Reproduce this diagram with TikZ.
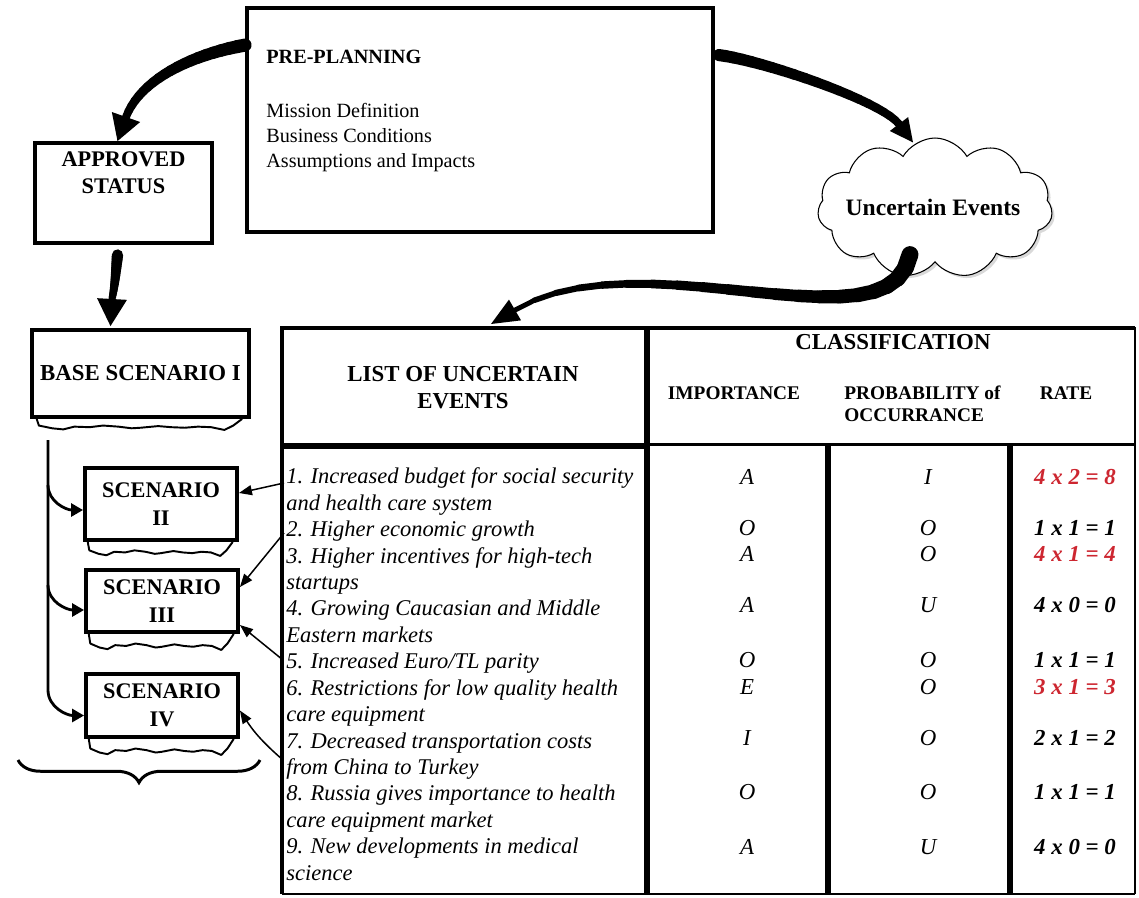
\documentclass[tikz,border=0pt]{standalone}
\usepackage{fontspec}
\setmainfont{Liberation Serif}
\usepackage{tikz}
\usetikzlibrary{arrows.meta,positioning,calc,decorations.pathreplacing,shapes.geometric,shapes.symbols,shadows}
\definecolor{ratered}{RGB}{205,38,48}
\newcommand{\px}{0.02cm}
% wavy sheet under a box: #1 node, #2 depth
\newcommand{\tornedge}[2]{%
    \draw[torn edge] ($(#1.south west)!.03!(#1.south east)$)
        \foreach \f/\d in {.04/.6,.1/.85,.15/.95,.2/.7,.27/.75,.33/.6,.4/.7,.46/.85,.5/.8,.58/.65,.64/.75,.7/.8,.76/.7,.82/.75,.88/1,.92/.6,.96/0}
        { -- ($(#1.south west)!\f!(#1.south east)+(0,{\d*#2})$) };}
% tapered arrow: start, c1, c2, head base, tip, start width, end width, half head
\newcommand{\taperarrow}[8]{%
    \path (#1) .. controls #2 and #3 .. (#4)
        \foreach \k [evaluate=\k as \t using \k/20] in {0,...,20}{coordinate[pos=\t] (sw\k)};
    \foreach \k in {1,...,20}{%
        \pgfmathsetmacro{\w}{#6+(#7-#6)*\k/20}%
        \pgfmathtruncatemacro{\kp}{\k-1}%
        \draw[swoosh=\w pt] (sw\kp) -- (sw\k);}
    \fill (#5) -- ($(#4)!#8!90:(#5)$) -- ($(#4)!#8!-90:(#5)$) -- cycle;}
\tikzset{
    box/.style={draw,line width=2.2pt},
    lbl/.style={font=\fontsize{12.7}{15.3}\selectfont\bfseries,align=center},
    scen/.style={box,minimum width=152*\px,align=center,font=\fontsize{12.7}{16}\selectfont\bfseries},
    torn edge/.style={line width=1.1pt,line join=round},
    swoosh/.style={line width=#1,line cap=round},
    branch/.style={line width=1.6pt,-{Triangle[length=0.24cm,width=0.26cm]}},
    thin arr/.style={line width=0.85pt,-{Triangle[length=0.26cm,width=0.2cm]}},
    rule/.style={line width=#1},
    head/.style={font=\fontsize{13}{15.3}\selectfont\bfseries,align=center},
    subhead/.style={font=\fontsize{11}{12.5}\selectfont\bfseries},
    event/.style={anchor=north west,align=left,font=\fontsize{12.8}{15}\selectfont\itshape},
    cell/.style={font=\fontsize{13}{15}\selectfont\itshape},
    rate/.style={font=\fontsize{13}{15}\selectfont\bfseries\itshape,text=#1},
}
\tikzstyle{every node}=[inner sep=0pt]

\begin{document}
\begin{tikzpicture}[x=\px,y=-\px]
    \useasboundingbox (0,0) rectangle (1139,897);

    % planning boxes
    \node[box,minimum width=466*\px,minimum height=224*\px] (pre) at (480,120) {};
    \node[anchor=west,font=\fontsize{11.5}{14}\selectfont\bfseries] (pretitle) at (266,57) {PRE-PLANNING};
    \node[anchor=north west,align=left,font=\fontsize{11.5}{14.2}\selectfont] (prelist) at (266,103) {Mission Definition\\Business Conditions\\Assumptions and Impacts};

    \node[box,minimum width=177*\px,minimum height=100*\px] (appr) at (123.5,193) {};
    \node[lbl,anchor=north] (apprlbl) at (123.5,151) {APPROVED\\STATUS};

    \node[box,minimum width=217*\px,minimum height=87*\px,font=\fontsize{13}{15}\selectfont\bfseries] (base) at (140.5,373.5) {BASE SCENARIO I};
    \node[scen,minimum height=72*\px] (sc2) at (161,504) {SCENARIO\\II};
    \node[scen,minimum height=62*\px] (sc3) at (162,601) {SCENARIO\\III};
    \node[scen,minimum height=63*\px] (sc4) at (162,705.5) {SCENARIO\\IV};
    \tornedge{base}{11}
    \tornedge{sc2}{14}
    \tornedge{sc3}{16}
    \tornedge{sc4}{16}

    \coordinate (trunk) at (48,440);
    \draw[branch] (trunk) -- ++(0,250) to[out=-90,in=180] ($(sc4.west)+(0,10)$);
    \draw[branch] ($(trunk)+(0,45)$) to[out=-90,in=180] ($(sc2.west)+(0,6)$);
    \draw[branch] ($(trunk)+(0,145)$) to[out=-90,in=180] ($(sc3.west)+(0,9)$);
    \draw[line width=1.7pt,decorate,decoration={brace,mirror,amplitude=0.45cm}] (18,760) -- (260,760);

    \node[cloud,draw,fill=white,cloud puffs=11,cloud puff arc=120,cloud ignores aspect,minimum width=235*\px,minimum height=140*\px,line width=0.6pt,drop shadow={shadow xshift=1.5pt,shadow yshift=-1.5pt,opacity=.3}] (unc) at (935,208) {};
    \node[font=\fontsize{13.4}{15}\selectfont\bfseries] (unclbl) at (933,207) {Uncertain Events};

    % table
    \coordinate (tl) at (282,328);
    \draw[rule=2.3pt] (282,328) -- (1135,328);
    \draw[rule=2.8pt] (282,326) -- (282,894);
    \draw[rule=1.4pt] (1135,327) -- (1135,894);
    \draw[rule=0.8pt] (282,894) -- (1135,894);
    \draw[rule=3.4pt] (647,328) -- (647,894);
    \draw[rule=3.4pt] (282,446) -- (647,446);
    \draw[rule=1.7pt] (647,444) -- (1135,444);
    \draw[rule=3.4pt] (828,444) -- (828,894);
    \draw[rule=3.4pt] (1010,444) -- (1010,894);

    \node[head] (listhead) at (463,387.5) {LIST OF UNCERTAIN\\EVENTS};
    \node[head] (classhead) at (893,342) {CLASSIFICATION};
    \node[subhead] (imphead) at (734,393) {IMPORTANCE};
    \node[subhead,anchor=north west,align=left] (probhead) at (844,386) {PROBABILITY of\\OCCURRANCE};
    \node[subhead] (ratehead) at (1066,393) {RATE};

    \foreach \row/\txt [count=\i] in {0/{1. Increased budget for social security\\and health care system},
        2/{2. Higher economic growth},
        3/{3. Higher incentives for high-tech\\startups},
        5/{4. Growing Caucasian and Middle\\Eastern markets},
        7/{5. Increased Euro/TL parity},
        8/{6. Restrictions for low quality health\\care equipment},
        10/{7. Decreased transportation costs\\from China to Turkey},
        12/{8. Russia gives importance to health\\care equipment market},
        14/{9. New developments in medical\\science}}
        \node[event] (ev\i) at (286,{467.6+26.45*\row}) {\txt};

    \foreach \y/\imp/\prob/\rt/\col [count=\i] in {477/A/I/{4 x 2 = 8}/ratered,528/O/O/{1 x 1 = 1}/black,
        554/A/O/{4 x 1 = 4}/ratered,605/A/U/{4 x 0 = 0}/black,660/O/O/{1 x 1 = 1}/black,
        687/E/O/{3 x 1 = 3}/ratered,738/I/O/{2 x 1 = 2}/black,792/O/O/{1 x 1 = 1}/black,847/A/U/{4 x 0 = 0}/black}{
        \node[cell] (imp\i) at (747,\y) {\imp};
        \node[cell] (prob\i) at (928,\y) {\prob};
        \node[rate=\col] (rate\i) at (1075,\y) {\rt};
    }

    % events -> scenarios
    \coordinate (e1) at (284,483);
    \coordinate (e2) at (284,533);
    \coordinate (e5) at (283,660);
    \coordinate (e7) at (283,760);
    \draw[thin arr] (e1) -- ($(sc2.east)+(0,-11)$);
    \draw[thin arr] (e2) -- ($(sc3.east)+(0,-14)$);
    \draw[thin arr] (e5) -- ($(sc3.east)+(0,24)$);
    \draw[thin arr] (e7) to[bend left=8] ($(sc4.east)+(0,5)$);

    % big arrows
    \coordinate (a1s) at ($(pre.north west)+(0,39)$);
    \coordinate (a1b) at (126,117);
    \coordinate (a1t) at ($(appr.north)+(-6,0)$);
    \taperarrow{a1s}{(190,55)}{(140,80)}{a1b}{a1t}{7.6}{4.5}{0.3cm}

    \coordinate (a2s) at ($(appr.south)+(-6,10)$);
    \coordinate (a2b) at (112,299);
    \coordinate (a2t) at ($(base.north)+(-30,-2)$);
    \taperarrow{a2s}{(116,270)}{(115,285)}{a2b}{a2t}{6.5}{4}{0.3cm}

    \coordinate (a3s) at ($(pre.north east)+(4,49)$);
    \coordinate (a3b) at (899,124);
    \coordinate (a3t) at ($(unc.north)+(-22,5)$);
    \taperarrow{a3s}{(760,60)}{(880,100)}{a3b}{a3t}{7}{4.5}{0.23cm}

    \coordinate (a4s) at ($(unc.south)+(-25,-8)$);
    \coordinate (a4b) at (515,310);
    \coordinate (a4t) at ($(tl)+(209,-4)$);
    \taperarrow{a4s}{(890,355)}{(640,235)}{a4b}{a4t}{10}{2.8}{0.24cm}
\end{tikzpicture}
\end{document}
